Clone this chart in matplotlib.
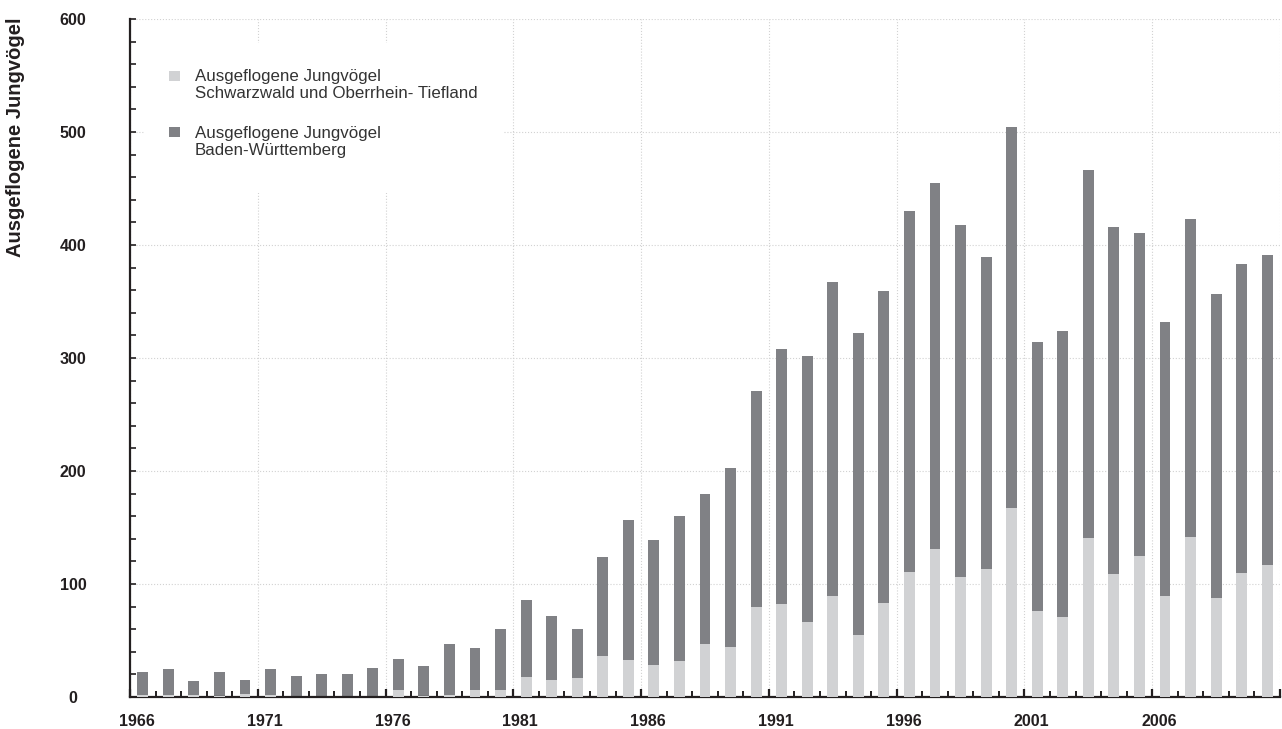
import matplotlib
matplotlib.use('Agg')
import matplotlib.pyplot as plt
import matplotlib.transforms as mtransforms
from matplotlib.patches import Rectangle
from matplotlib.ticker import FixedLocator

# ---------------- data ----------------
years = list(range(1966, 2011))
bw_total = [22, 25, 14, 22, 15, 25, 19, 20, 20, 26,
            34, 27, 47, 43, 60, 86, 72, 60, 124, 157,
            139, 160, 180, 203, 271, 308, 302, 367, 322, 359,
            430, 455, 418, 389, 504, 314, 324, 466, 416, 411,
            332, 423, 357, 383, 391]
schwarzwald = [2, 2, 2, 1, 3, 2, 0, 0, 0, 0,
               6, 1, 2, 6, 6, 18, 15, 17, 36, 33,
               28, 32, 47, 44, 80, 82, 66, 89, 55, 83,
               111, 131, 106, 113, 167, 76, 71, 141, 109, 125,
               89, 142, 88, 110, 117]
tick_labels = ["1966", "1971", "1976", "1981", "1986", "1991", "1996", "2001", "2006", ""]
y_ticks = [0, 100, 200, 300, 400, 500, 600]
y_labels = ["0", "100", "200", "300", "400", "500", "600"]
legend_labels = ["Ausgeflogene Jungvögel\nSchwarzwald und Oberrhein- Tiefland",
                 "Ausgeflogene Jungvögel\nBaden-Württemberg"]

DARK = "#808185"
LIGHT = "#d1d2d4"
TXT = "#231f20"

plt.rcParams['font.family'] = ['Liberation Sans', 'DejaVu Sans']

W, H = 1282, 729
fig = plt.figure(figsize=(W / 100, H / 100), dpi=100)
ax_l, ax_r, ax_b, ax_t = 130, 1280, 697, 19
ax = fig.add_axes([ax_l / W, (H - ax_b) / H, (ax_r - ax_l) / W, (ax_b - ax_t) / H])

bw = 0.43
ax.bar(years, bw_total, width=bw, color=DARK, zorder=2, label=legend_labels[1])
ax.bar(years, schwarzwald, width=bw, color=LIGHT, zorder=3, label=legend_labels[0])

ax.set_xlim(1965.5, 2010.5)
ax.set_ylim(0, 600)

# x ticks: major every 5 boundaries, minor each boundary
major_x = [1965.5 + 5 * k for k in range(len(tick_labels))]
ax.xaxis.set_major_locator(FixedLocator(major_x))
ax.xaxis.set_minor_locator(FixedLocator([1965.5 + k for k in range(46)]))
ax.set_xticklabels(tick_labels)
ax.yaxis.set_major_locator(FixedLocator(y_ticks))
ax.yaxis.set_minor_locator(FixedLocator(list(range(0, 601, 20))))
ax.set_yticklabels(y_labels)

ax.tick_params(axis='x', which='major', direction='in', length=6, width=1.6, color=TXT,
               pad=12, labelsize=11.5, labelcolor=TXT)
ax.tick_params(axis='x', which='minor', direction='in', length=4, width=1.4, color=TXT)
ax.tick_params(axis='y', which='both', direction='in', length=4, width=1.2, color=TXT)
ax.tick_params(axis='y', which='major', pad=41, labelsize=11.5, labelcolor=TXT)
for lab in ax.get_xticklabels():
    lab.set_fontweight('bold')
    lab.set_transform(lab.get_transform() +
                      mtransforms.ScaledTranslation(0.07, 0, fig.dpi_scale_trans))
for lab in ax.get_yticklabels():
    lab.set_fontweight('bold')
    lab.set_horizontalalignment('center')

ax.set_axisbelow(True)
ax.grid(True, which='major', color='#d2d2d2', linestyle=':', linewidth=0.8)

for s in ['top', 'right']:
    ax.spines[s].set_visible(False)
for s in ['left', 'bottom']:
    ax.spines[s].set_color(TXT)
    ax.spines[s].set_linewidth(1.6)

ax.set_ylabel("Ausgeflogene Jungvögel", fontsize=14.5, fontweight='bold', color=TXT,
              va='center')
ax.yaxis.set_label_coords((15.5 - ax_l) / (ax_r - ax_l), (ax_b - 137) / (ax_b - ax_t))

# manual legend (square aligned with first text line)
def axx(px):
    return (px - ax_l) / (ax_r - ax_l)

def axy(py):
    return (ax_b - py) / (ax_b - ax_t)

# white legend background (hides gridlines, no border)
ax.add_patch(Rectangle((axx(145), axy(193)), axx(503) - axx(145), axy(43) - axy(193),
                       transform=ax.transAxes, facecolor='white', edgecolor='none',
                       zorder=1))

entries = [(LIGHT, legend_labels[0], 71, 85), (DARK, legend_labels[1], 127, 142)]
for col, lab, sq_top, txt_c in entries:
    ax.add_patch(Rectangle((axx(169), axy(sq_top + 10)), axx(180) - axx(169),
                           axy(sq_top) - axy(sq_top + 10), transform=ax.transAxes,
                           facecolor=col, edgecolor='none', zorder=5))
    ax.text(axx(195), axy(txt_c), lab, transform=ax.transAxes, fontsize=12.2,
            color='#333333', va='center', ha='left', linespacing=1.2, zorder=5)

fig.savefig("out.png", dpi=100)
